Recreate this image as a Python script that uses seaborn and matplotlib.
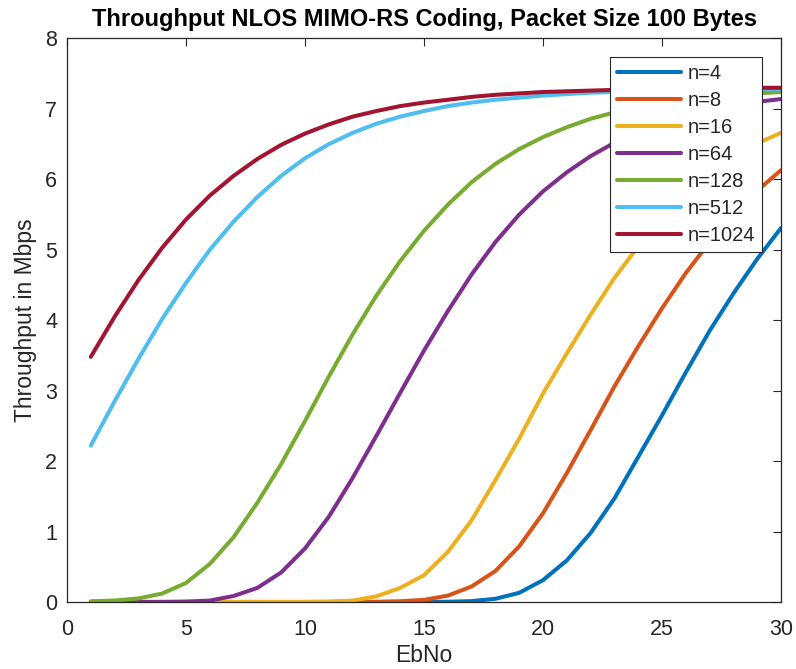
import numpy as np
import pandas as pd
import matplotlib
matplotlib.use("Agg")
import matplotlib.pyplot as plt
import seaborn as sns

ebno = list(range(1, 31))
n4 = [0, 0, 0, 0, 0, 0, 0, 0, 0, 0, 0, 0, 0, 0, 0, 0.003, 0.012, 0.045, 0.13, 0.31, 0.59, 0.98, 1.47, 2.06, 2.65, 3.26, 3.85, 4.38, 4.87, 5.31]
n8 = [0, 0, 0, 0, 0, 0, 0, 0, 0, 0, 0, 0, 0.002, 0.01, 0.03, 0.09, 0.22, 0.44, 0.79, 1.26, 1.83, 2.44, 3.06, 3.63, 4.17, 4.67, 5.11, 5.50, 5.84, 6.13]
n16 = [0, 0, 0, 0, 0, 0, 0, 0, 0, 0, 0.005, 0.02, 0.08, 0.2, 0.38, 0.71, 1.16, 1.73, 2.32, 2.96, 3.53, 4.08, 4.6, 5.05, 5.45, 5.8, 6.1, 6.33, 6.51, 6.66]
n64 = [0, 0, 0, 0, 0.005, 0.02, 0.085, 0.2, 0.42, 0.76, 1.21, 1.76, 2.36, 2.97, 3.57, 4.13, 4.65, 5.11, 5.5, 5.83, 6.1, 6.33, 6.52, 6.67, 6.8, 6.9, 6.98, 7.05, 7.1, 7.14]
n128 = [0.01, 0.02, 0.05, 0.12, 0.27, 0.54, 0.92, 1.41, 1.96, 2.57, 3.2, 3.8, 4.35, 4.84, 5.27, 5.64, 5.96, 6.22, 6.43, 6.6, 6.74, 6.86, 6.95, 7.03, 7.09, 7.13, 7.17, 7.2, 7.22, 7.24]
n512 = [2.22, 2.85, 3.45, 4.02, 4.53, 5.0, 5.4, 5.75, 6.05, 6.3, 6.5, 6.66, 6.79, 6.89, 6.97, 7.04, 7.09, 7.13, 7.16, 7.19, 7.21, 7.23, 7.24, 7.25, 7.26, 7.27, 7.27, 7.28, 7.28, 7.28]
n1024 = [3.48, 4.05, 4.57, 5.03, 5.43, 5.77, 6.05, 6.29, 6.49, 6.65, 6.78, 6.89, 6.97, 7.04, 7.09, 7.13, 7.17, 7.2, 7.22, 7.24, 7.25, 7.26, 7.27, 7.28, 7.29, 7.29, 7.3, 7.3, 7.3, 7.3]

labels = ["n=4", "n=8", "n=16", "n=64", "n=128", "n=512", "n=1024"]
series = [n4, n8, n16, n64, n128, n512, n1024]
colors = ["#0072BD", "#D95319", "#EDB120", "#7E2F8E", "#77AC30", "#4DBEEE", "#A2142F"]

df = pd.concat([pd.DataFrame({"EbNo": ebno, "Throughput": s, "n": lab})
                for s, lab in zip(series, labels)], ignore_index=True)

sns.set_style("white")
plt.rcParams["font.family"] = ["Liberation Sans", "DejaVu Sans"]

fig = plt.figure(figsize=(7.96, 6.69), dpi=100)
ax = fig.add_axes([0.0842, 0.1002, 0.8970, 0.8423])

sns.lineplot(data=df, x="EbNo", y="Throughput", hue="n", hue_order=labels,
             palette=colors, linewidth=2.9, ax=ax)

ax.set_xlim(0, 30)
ax.set_ylim(0, 8)
ax.set_xticks(range(0, 31, 5))
ax.set_yticks(range(0, 9))
ax.tick_params(direction="in", length=6, width=0.8, colors="#262626",
               labelsize=15.5, top=True, right=True)
ax.tick_params(axis="x", pad=12)
ax.tick_params(axis="y", pad=7)
for sp in ax.spines.values():
    sp.set_visible(True)
    sp.set_color("#262626")
    sp.set_linewidth(0.9)

ax.set_xlabel("EbNo", fontsize=16.5, color="#262626", labelpad=3)
ax.set_ylabel("Throughput in Mbps", fontsize=16.5, color="#262626", labelpad=6)
ax.set_title("Throughput NLOS MIMO-RS Coding, Packet Size 100 Bytes",
             fontsize=17, fontweight="bold", color="black", pad=9)

leg = ax.legend(loc="upper right", fontsize=14.5, handlelength=3.2,
                labelspacing=0.4, borderaxespad=0, fancybox=False,
                bbox_to_anchor=(0.957, 0.9148), bbox_transform=fig.transFigure,
                framealpha=1, edgecolor="#262626", handletextpad=0.3,
                borderpad=0.35)
leg.get_frame().set_linewidth(0.8)
for line in leg.get_lines():
    line.set_linewidth(2.9)

fig.savefig("out.png", dpi=100)
